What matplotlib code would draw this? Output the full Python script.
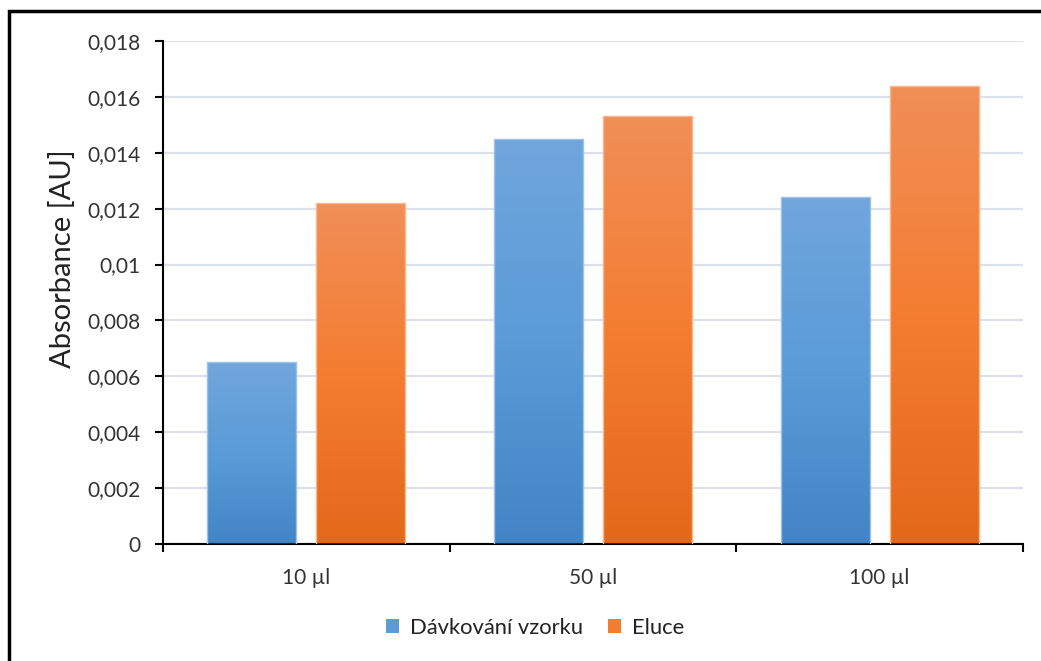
import numpy as np
import matplotlib
matplotlib.use("Agg")
import matplotlib.pyplot as plt
from matplotlib.colors import LinearSegmentedColormap
from matplotlib.patches import Rectangle, Patch
from matplotlib.ticker import FixedLocator, FuncFormatter

plt.rcParams['font.family'] = ['Lato', 'DejaVu Sans']

categories = ['10 µl', '50 µl', '100 µl']
series_names = ['Dávkování vzorku', 'Eluce']
davkovani = [0.0065, 0.0145, 0.0124]
eluce = [0.0122, 0.0153, 0.0164]

# bottom -> middle -> top of each bar
blue_grad = ['#4384c6', '#5a9bd8', '#70a6dc']
orange_grad = ['#e3691a', '#f47d31', '#f08f58']
blue_edge = '#9dc3e6'
orange_edge = '#f8b88b'

fig = plt.figure(figsize=(10.41, 6.61), dpi=100)
ax = fig.add_axes([163 / 1041, 1 - 544 / 661, 860 / 1041, 503 / 661])

x = np.arange(len(categories))
width = 0.31
offset = 0.19


def gradient_bars(xpos, values, grad, edge):
    cmap = LinearSegmentedColormap.from_list('g', grad)
    bars = ax.bar(xpos, values, width, facecolor='none', edgecolor=edge,
                  linewidth=1.0, zorder=3)
    grad_img = np.linspace(0, 1, 256).reshape(-1, 1)
    for b in bars:
        x0, y0 = b.get_x(), b.get_y()
        im = ax.imshow(grad_img, cmap=cmap, origin='lower', aspect='auto',
                       extent=[x0, x0 + b.get_width(), y0, y0 + b.get_height()],
                       zorder=2, interpolation='bilinear')
        im.set_clip_path(b)
    return bars


gradient_bars(x - offset, davkovani, blue_grad, blue_edge)
gradient_bars(x + offset, eluce, orange_grad, orange_edge)

ax.set_xlim(-0.5, len(categories) - 0.5)
ax.set_ylim(0, 0.018)

yt = np.arange(0, 0.0181, 0.002)
ax.yaxis.set_major_locator(FixedLocator(yt))
ax.yaxis.set_major_formatter(FuncFormatter(lambda v, p: f"{v:.3f}".rstrip('0').rstrip('.').replace('.', ',') if v else '0'))
ax.grid(axis='y', color='#dde2ea', linewidth=1.6, zorder=0)
ax.set_axisbelow(True)

ax.set_xticks(x)
ax.set_xticklabels(categories)
ax.set_xticks(np.arange(-0.5, len(categories)), minor=True)
ax.tick_params(axis='x', which='major', length=0, pad=17, labelsize=15, colors='#333333')
ax.tick_params(axis='x', which='minor', length=6, width=1.5, color='black', direction='out')
ax.tick_params(axis='y', length=6, width=1.5, color='black', pad=10, labelsize=15, labelcolor='#333333')

for s in ['top', 'right']:
    ax.spines[s].set_visible(False)
for s in ['left', 'bottom']:
    ax.spines[s].set_linewidth(1.5)
    ax.spines[s].set_color('black')

ax.set_ylabel('Absorbance [AU]', fontsize=21, color='#222222')
ax.yaxis.set_label_coords(-0.101, 0.567)

handles = [Patch(facecolor=blue_grad[1], edgecolor='none'),
           Patch(facecolor=orange_grad[1], edgecolor='none')]
fig.legend(handles, series_names, loc='center', bbox_to_anchor=(0.514, 1 - 628 / 661),
           ncol=2, frameon=False, fontsize=15.8, handlelength=0.6, handleheight=0.6,
           handletextpad=0.5, columnspacing=1.1, labelcolor='#222222')

# outer frame of the chart
fig.patches.append(Rectangle((9 / 1041, -0.1), 1.2, 1.1 - 11 / 661,
                             transform=fig.transFigure, fill=False,
                             edgecolor='black', linewidth=2.5))

fig.savefig('out.png', dpi=100)
